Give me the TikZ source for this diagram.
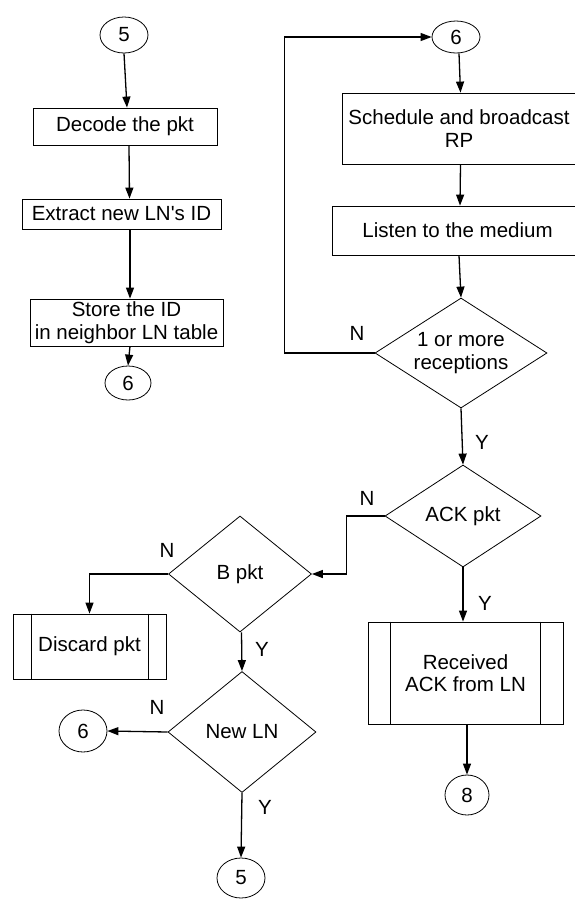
\documentclass[tikz,border=0pt]{standalone}
\usepackage{fontspec}
\setmainfont{Liberation Sans}
\usetikzlibrary{shapes.geometric,arrows.meta}
\begin{document}
\begin{tikzpicture}[x=1pt,y=-1pt,
  every node/.style={font=\fontsize{20.5}{22.5}\selectfont},
  box/.style={draw,line width=0.8pt,inner sep=0pt,align=center},
  term/.style={draw,ellipse,line width=0.8pt,inner sep=0pt},
  dec/.style={draw,diamond,aspect=1.56,line width=0.8pt,inner sep=0pt,align=center},
  arr/.style={line width=1.3pt,-{Triangle[length=11pt,width=8pt]}},
  bar/.style={line width=0.8pt},
  lab/.style={inner sep=0pt}]
\useasboundingbox (0,0) rectangle (574,900);
\fill[white] (0,0) rectangle (574,900);
% left column
\node[term,minimum width=48pt,minimum height=36pt] (c5a) at (124,35) {5};
\node[box,minimum width=184pt,minimum height=37pt] (decode) at (125,126.5) {Decode the pkt};
\node[box,minimum width=199pt,minimum height=30pt] (extract) at (121.5,214) {Extract new LN\textquotesingle s ID};
\node[box,minimum width=193pt,minimum height=47pt] (store) at (126.5,322.5) {Store the ID\\in neighbor LN table};
\node[term,minimum width=46pt,minimum height=34pt] (c6a) at (128,383) {6};
% right column
\node[term,minimum width=48pt,minimum height=32pt] (c6b) at (456,37) {6};
\node[box,minimum width=234pt,minimum height=71pt] (sched) at (459,128.5) {Schedule and broadcast\\RP};
\node[box,minimum width=251pt,minimum height=49pt] (listen) at (457.5,230.5) {Listen to the medium};
\node[dec,minimum width=172pt,minimum height=110pt] (d1) at (461,353) {1 or more\\receptions};
\node[dec,minimum width=156pt,minimum height=102pt] (ack) at (463,516) {ACK pkt};
\node[box,minimum width=195pt,minimum height=102pt] (recv) at (465.5,673) {Received\\ACK from LN};
\node[term,minimum width=44pt,minimum height=40pt] (c8) at (467,795) {8};
% lower left
\node[dec,minimum width=143pt,minimum height=116pt] (bpkt) at (240,574) {B pkt};
\node[box,minimum width=153pt,minimum height=65pt] (discard) at (89.5,646.5) {Discard pkt};
\node[dec,minimum width=148pt,minimum height=121pt] (newln) at (242,732) {New LN};
\node[term,minimum width=48pt,minimum height=42pt] (c6c) at (83,731) {6};
\node[term,minimum width=48pt,minimum height=40pt] (c5b) at (241,878) {5};
% predefined-process bars
\draw[bar] ([xshift=19pt]discard.north west) -- ([xshift=19pt]discard.south west);
\draw[bar] ([xshift=-18pt]discard.north east) -- ([xshift=-18pt]discard.south east);
\draw[bar] ([xshift=23pt]recv.north west) -- ([xshift=23pt]recv.south west);
\draw[bar] ([xshift=-23pt]recv.north east) -- ([xshift=-23pt]recv.south east);
% labels
\node[lab] (nl1) at (357,333) {N};
\node[lab] (yl1) at (482,442) {Y};
\node[lab] (nl2) at (367,498) {N};
\node[lab] (yl2) at (485,603) {Y};
\node[lab] (nl3) at (167,550) {N};
\node[lab] (yl3) at (262,649) {Y};
\node[lab] (nl4) at (157,707) {N};
\node[lab] (yl4) at (265,807) {Y};
% connectors
\draw[arr] (c5a.south) -- ([xshift=2pt]decode.north);
\draw[arr] ([xshift=4pt]decode.south) -- ([xshift=8pt]extract.north);
\draw[arr] ([xshift=8.5pt]extract.south) -- ([xshift=3.5pt]store.north);
\draw[arr] ([xshift=3.5pt]store.south) -- (c6a.north);
\draw[arr] ([xshift=3pt]c6b.south) -- ([xshift=1.5pt]sched.north);
\draw[arr] ([xshift=1.5pt]sched.south) -- ([xshift=2.5pt]listen.north);
\draw[arr] ([xshift=1.5pt]listen.south) -- (d1.north);
\draw[arr] (d1.west) -- ++(-90,0) |- (c6b.west);
\draw[arr] (d1.south) -- (ack.north);
\draw[arr] (ack.west) -- ++(-38,0) |- (bpkt.east);
\draw[arr] (ack.south) -- ([xshift=-2.5pt]recv.north);
\draw[arr] ([xshift=1.5pt]recv.south) -- (c8.north);
\draw[arr] (bpkt.west) -| (discard.north);
\draw[arr] ([xshift=1.5pt]bpkt.south) -- (newln.north);
\draw[arr] (newln.west) -- (c6c.east);
\draw[arr] (newln.south) -- (c5b.north);
\end{tikzpicture}
\end{document}
